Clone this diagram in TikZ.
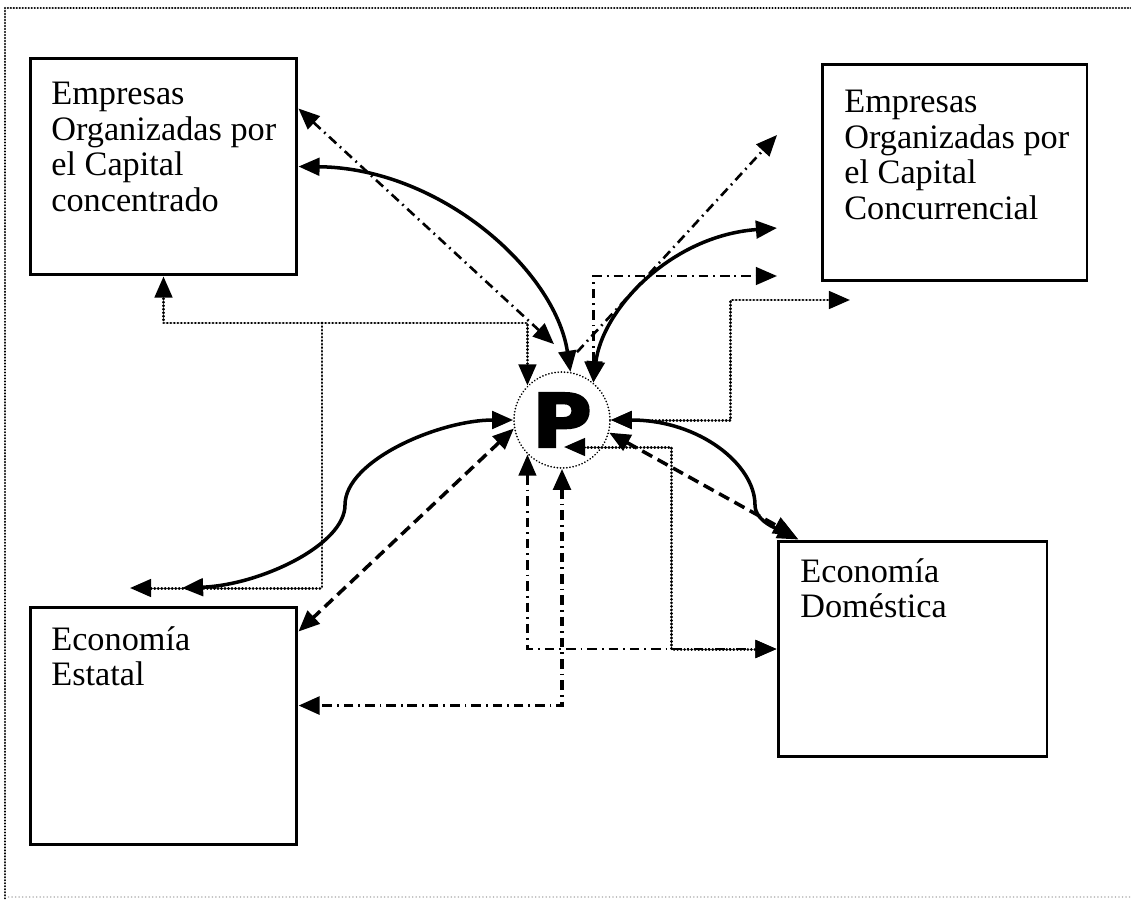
\documentclass[tikz,border=0pt]{standalone}
\usepackage{fontspec}
\setmainfont{Liberation Serif}
\newfontfamily\pfont[BoldFeatures={FakeBold=3}]{DejaVu Sans}
\usetikzlibrary{arrows.meta,calc}
\begin{document}
\begin{tikzpicture}[x=0.02cm,y=-0.02cm,>={Triangle[length=12pt,width=10pt]},
  box/.style={draw,line width=1.7pt,inner sep=0pt},
  txt/.style={anchor=north west,inner sep=0pt,align=left,font=\fontsize{19.5}{20.2}\selectfont},
  full/.style={line width=2pt,<->},
  dashln/.style={line width=2pt,dash pattern=on 6.5pt off 3.5pt},
  dotln/.style={line width=1.7pt,dash pattern=on 0.1pt off 1.9pt,line cap=round},
  dashdotln/.style={line width=1.5pt,dash pattern=on 5.5pt off 2.8pt on 1pt off 2.8pt}]
\useasboundingbox (0,0) rectangle (1131,899);
\draw[dotln,line width=1.3pt,dash pattern=on 0.1pt off 1.6pt] (1131,8) -- (5,8) -- (5,899);
\draw[dotln,line width=0.9pt,black!25] (5,897) -- (1131,897);
\node[box,minimum width=5.34cm,minimum height=4.34cm] (conc) at (163.5,166.5) {};
\node[box,minimum width=5.3cm,minimum height=4.34cm] (concu) at (954.5,172.5) {};
\node[box,minimum width=5.34cm,minimum height=4.76cm] (estatal) at (163.5,726) {};
\node[box,minimum width=5.38cm,minimum height=4.32cm] (domes) at (912.5,649) {};
\node[txt] (conc-t) at (51,82) {Empresas\\Organizadas por\\el Capital\\concentrado};
\node[txt] (concu-t) at (844,90) {Empresas\\Organizadas por\\el Capital\\Concurrencial};
\node[txt] (estatal-t) at (51,626) {Economía\\Estatal};
\node[txt] (domes-t) at (800,558) {Economía\\Doméstica};
\node[circle,draw,minimum size=1.92cm,inner sep=0pt,line width=1pt,dash pattern=on 0.1pt off 1.7pt,line cap=round] (P) at (562,420) {\scalebox{1.1}[1]{\pfont\bfseries\fontsize{42}{42}\selectfont P}};
\coordinate (j1) at (322,323);
\coordinate (sal) at (130,588);
\coordinate (sst) at (182,588);
\coordinate (ct) at (777,135);
\coordinate (cs) at (777,228);
\coordinate (cm) at (777,276);
\coordinate (cr) at (850,300);
\draw[dotln,->] (j1) -| (conc.south);
\draw[dotln,->] (j1) -| (P.135);
\draw[dotln,->] (j1) |- (sal);
\draw[full] (sst) .. controls (260,585) and (345,545) .. (345,505) .. controls (345,460) and (440,420) .. (P.west);
\draw[dashln,<->] (P.190) -- ($(estatal.north east)+(0,26)$);
\draw[dashdotln,<->] ($(conc.north east)+(0,52)$) -- ($(P.north)+(-8,-27)$);
\draw[full] ($(conc.north east)+(0,110)$) .. controls (440,168) and (555,270) .. (P.80);
\draw[dashdotln,->] ($(P.north)+(15,-19)$) -- (ct);
\draw[full] (P.50) .. controls (602,310) and (670,236) .. (cs);
\draw[dashdotln,<->] (P.50) |- (cm);
\draw[dotln,<->] (P.east) -- ++(120,0) |- (cr);
\draw[full] (P.east) .. controls (700,420) and (755,465) .. (755,505) .. controls (755,522) and (780,530) .. ($(domes.north west)+(22,0)$);
\draw[dashln,<->] (P.345) -- ($(domes.north west)+(18,-4)$);
\draw[dotln,<->] ($(P.center)+(2,27)$) -- ++(107,0) |- (domes.west);
\draw[dashdotln,<->] (P.225) |- (domes.west);
\draw[dashdotln,line width=2.2pt,<->] (P.south) |- ($(estatal.north east)+(0,100)$);
\end{tikzpicture}
\end{document}
